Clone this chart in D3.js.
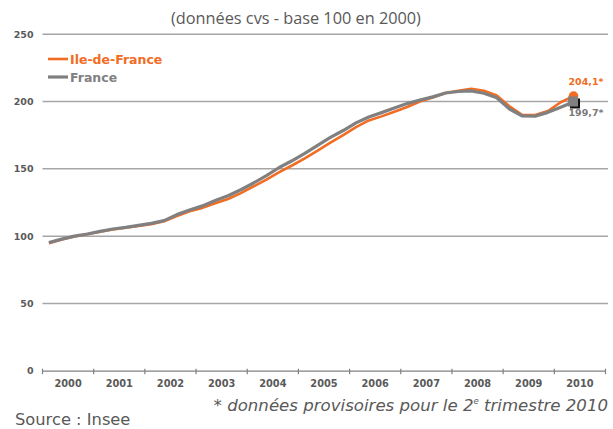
<!DOCTYPE html>
<html><head><meta charset="utf-8">
<script src="https://cdn.jsdelivr.net/npm/d3@7/dist/d3.min.js"></script>
<style>body{margin:0;background:#fff}svg{display:block}</style>
</head><body><svg id="c" width="613" height="429"></svg>
<script>
const years = ["2000","2001","2002","2003","2004","2005","2006","2007","2008","2009","2010"];
const quarterCount = 44; // quarters spanned by the axis (2000T1 .. 2010T4)
const yTicks = [0, 50, 100, 150, 200, 250];
const seriesNames = ["Ile-de-France", "France"];
// quarterly values 2000T1 .. 2010T2
const idf = [94.8, 97.5, 99.8, 101.4, 103.3, 105.0, 106.2, 107.5, 108.8, 111.0,
             115.0, 118.5, 121.0, 124.5, 127.6, 132.0, 137.0, 142.0, 147.5, 152.5,
             157.8, 163.5, 169.5, 175.0, 181.0, 186.0, 189.0, 192.5, 196.0, 200.0,
             203.0, 206.4, 208.0, 209.5, 208.0, 204.6, 196.5, 190.0, 190.0, 193.0,
             199.5, 204.1];
const france = [95.2, 97.8, 100.0, 101.6, 103.5, 105.3, 106.5, 108.0, 109.5, 111.5,
                116.0, 119.5, 122.5, 126.5, 130.0, 134.5, 139.5, 145.0, 151.0, 156.0,
                161.5, 167.5, 173.4, 178.5, 184.2, 188.5, 191.8, 195.2, 198.5, 201.2,
                203.5, 206.4, 207.5, 207.9, 206.2, 202.8, 194.5, 189.3, 189.2, 192.0,
                195.8, 199.7];
const lastLabels = ["204,1*", "199,7*"];
const title = "(données cvs - base 100 en 2000)";

const orange = "#f26c24", gray = "#808080", txt = "#595959";
const svg = d3.select("#c");
const L = 42.5, R = 605.5, T = 34.3, B = 370.7;

const xb = d3.scaleBand().domain(years).range([L, R]);
const xq = d3.scaleLinear().domain([0, quarterCount]).range([L, R]);
const y = d3.scaleLinear().domain([0, 250]).range([B, T]);

// title
svg.append("text").attr("x", 296).attr("y", 24).attr("text-anchor", "middle")
  .attr("font-family", "'Open Sans', sans-serif").attr("font-size", 16.3)
  .attr("fill", txt).text(title);

// gridlines
svg.append("g").selectAll("line").data(yTicks.filter(d => d > 0)).join("line")
  .attr("x1", L).attr("x2", 608).attr("y1", d => y(d)).attr("y2", d => y(d))
  .attr("stroke", "#a6a6a6").attr("stroke-width", 1.5);

// y labels
const ya = svg.append("g").attr("transform", `translate(${L},0)`)
  .call(d3.axisLeft(y).tickValues(yTicks).tickSize(0).tickPadding(9));
ya.select(".domain").remove();
ya.selectAll("text").attr("font-family", "'DejaVu Sans', sans-serif")
  .attr("font-size", 9.5).attr("font-weight", "bold").attr("fill", txt);

// x axis
const xa = svg.append("g").attr("transform", `translate(0,${B})`)
  .call(d3.axisBottom(xb).tickSize(0).tickPadding(9));
xa.select(".domain").attr("stroke", "#808080").attr("stroke-width", 1.2);
xa.selectAll("text").attr("font-family", "'DejaVu Sans', sans-serif")
  .attr("font-size", 9.8).attr("font-weight", "bold").attr("fill", txt);
const edges = years.map(d => xb(d)).concat([R]);
xa.append("g").selectAll("line").data(edges).join("line")
  .attr("x1", d => d).attr("x2", d => d).attr("y1", -2).attr("y2", 3.5)
  .attr("stroke", "#808080").attr("stroke-width", 1.2);

// lines
const line = d3.line().x((d, i) => xq(i + 0.5)).y(d => y(d));
svg.append("path").datum(idf).attr("d", line).attr("fill", "none")
  .attr("stroke", orange).attr("stroke-width", 2.6).attr("stroke-linejoin", "round");
svg.append("path").datum(france).attr("d", line).attr("fill", "none")
  .attr("stroke", gray).attr("stroke-width", 3.2).attr("stroke-linejoin", "round");

// end markers
const li = idf.length - 1, lf = france.length - 1;
svg.append("circle").attr("cx", xq(li + 0.5)).attr("cy", y(idf[li])).attr("r", 4.8).attr("fill", orange);
const sx = xq(lf + 0.5), sy = y(france[lf]);
svg.append("rect").attr("x", sx - 3.5).attr("y", sy - 3.5).attr("width", 10).attr("height", 10).attr("fill", "#111");
svg.append("rect").attr("x", sx - 5.5).attr("y", sy - 5.5).attr("width", 10).attr("height", 10).attr("fill", gray);

svg.append("text").attr("x", 586).attr("y", y(idf[li]) - 11).attr("text-anchor", "middle")
  .attr("font-family", "'DejaVu Sans', sans-serif").attr("font-size", 9.5).attr("font-weight", "bold")
  .attr("fill", orange).text(lastLabels[0]);
svg.append("text").attr("x", 586).attr("y", sy + 14).attr("text-anchor", "middle")
  .attr("font-family", "'DejaVu Sans', sans-serif").attr("font-size", 9.5).attr("font-weight", "bold")
  .attr("fill", "#7a7a7a").text(lastLabels[1]);

// legend
const leg = svg.append("g");
[[orange, 59], [gray, 77]].forEach(([c, yy], k) => {
  leg.append("line").attr("x1", 48).attr("x2", 68).attr("y1", yy).attr("y2", yy)
    .attr("stroke", c).attr("stroke-width", k === 0 ? 2.6 : 3.2);
  leg.append("text").attr("x", 70).attr("y", yy + 4.5)
    .attr("font-family", "'DejaVu Sans', sans-serif").attr("font-size", 12.5).attr("font-weight", "bold")
    .attr("fill", c).text(seriesNames[k]);
});

// footnotes
const fn = svg.append("text").attr("x", 608).attr("y", 411).attr("text-anchor", "end")
  .attr("font-family", "'DejaVu Sans', sans-serif").attr("font-size", 16.6).attr("font-style", "italic")
  .attr("fill", txt);
fn.append("tspan").text("* données provisoires pour le 2");
fn.append("tspan").attr("font-size", 8.5).attr("dy", -7).text("e");
fn.append("tspan").attr("dy", 7).text(" trimestre 2010");
svg.append("text").attr("x", 15).attr("y", 424.5).attr("font-family", "'DejaVu Sans', sans-serif")
  .attr("font-size", 16.3).attr("fill", txt).text("Source : Insee");
</script></body></html>
